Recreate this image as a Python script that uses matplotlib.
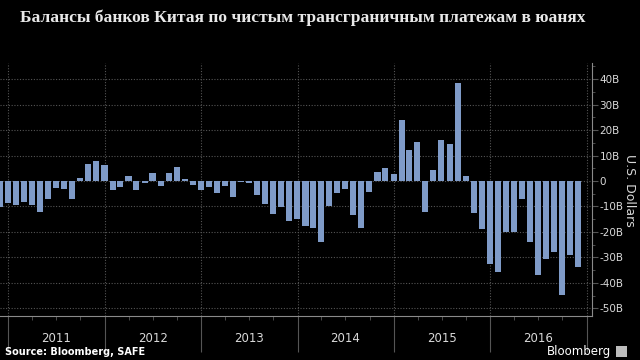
import matplotlib
matplotlib.use("Agg")
import matplotlib.pyplot as plt
import matplotlib.dates as mdates
import matplotlib.patches as patches
from matplotlib.ticker import MultipleLocator, FuncFormatter
import pandas as pd

# monthly net cross-border yuan payments, billions of USD (month-end)
months = pd.date_range("2010-11-30", periods=73, freq="ME")
values = [
    -10.1, -8.8, -9.5, -8.1, -9.4, -12.0, -7.1, -2.6, -3.1, -7.2, 1.0, 6.7,
    7.8, 6.4, -3.5, -2.4, 2.1, -3.5, -0.9, 3.0, -2.0, 3.3, 5.4, 0.9,
    -1.4, -3.5, -2.5, -4.8, -1.9, -6.1, -0.2, -0.6, -5.5, -9.2, -13.0, -10.2,
    -15.8, -15.0, -17.5, -18.4, -24.1, -9.8, -4.8, -3.1, -13.2, -18.4, -4.4, 3.4,
    5.2, 2.9, 23.8, 12.0, 15.3, -12.0, 4.2, 15.9, 14.6, 38.3, 1.9, -12.7,
    -19.0, -32.5, -35.7, -20.1, -20.2, -7.1, -23.8, -36.7, -30.7, -27.8, -44.9, -29.1,
    -33.6,
]
years = [2011, 2012, 2013, 2014, 2015, 2016]

title = "Балансы банков Китая по чистым трансграничным платежам в юанях"
bar_color = "#7f9bc8"
grid_color = "#555555"
text_color = "#d9d9d9"

fig = plt.figure(figsize=(6.4, 3.6), dpi=100, facecolor="black")
ax = fig.add_axes([0.0, 0.122, 0.925, 0.703], facecolor="black")

x = mdates.date2num(months)
ax.bar(x, values, width=23, color=bar_color, zorder=3)

ax.set_xlim(mdates.date2num(pd.Timestamp("2010-11-30")),
            mdates.date2num(pd.Timestamp("2017-01-21")))
ax.set_ylim(-53, 46.3)

# y axis on the right
ax.yaxis.tick_right()
ax.yaxis.set_major_locator(MultipleLocator(10))
ax.yaxis.set_minor_locator(MultipleLocator(5))
ax.yaxis.set_major_formatter(FuncFormatter(lambda v, p: "0" if v == 0 else f"{v:.0f}B"))
ax.tick_params(axis="y", which="major", colors=grid_color, labelcolor=text_color,
               labelsize=7.5, length=4, pad=1.5)
ax.tick_params(axis="y", which="minor", colors=grid_color, length=2)
fig.text(0.983, 0.47, "U.S. Dollars", rotation=270, color=text_color, fontsize=9,
         ha="center", va="center")

# x axis: year boundaries long ticks, quarters short ticks
year_starts = [mdates.date2num(pd.Timestamp(f"{y}-01-01")) for y in years + [2017]]
quarters = mdates.date2num(pd.date_range("2011-01-01", "2017-01-01", freq="QS"))
ax.set_xticks(year_starts)
ax.set_xticks(quarters, minor=True)
ax.tick_params(axis="x", which="major", colors=grid_color, length=26, labelbottom=False)
ax.tick_params(axis="x", which="minor", colors=grid_color, length=3)
for y in years:
    mid = mdates.date2num(pd.Timestamp(f"{y}-07-01"))
    ax.text(mid, -0.087, str(y), transform=ax.get_xaxis_transform(),
            ha="center", va="center", color=text_color, fontsize=8.5)

ax.grid(True, which="major", color=grid_color, linestyle=(0, (1, 1.5)), linewidth=0.8, zorder=0)

for s in ["left", "top"]:
    ax.spines[s].set_visible(False)
for s in ["right", "bottom"]:
    ax.spines[s].set_color("#8a8a8a")
    ax.spines[s].set_linewidth(0.8)

fig.text(0.031, 0.95, title, family="Liberation Serif", fontweight="bold",
         fontsize=12.6, color="#e8e8e8", ha="left", va="center")
fig.text(0.008, 0.022, "Source: Bloomberg, SAFE", fontweight="bold", fontsize=7,
         color="white", ha="left", va="center")
fig.text(0.955, 0.025, "Bloomberg", fontsize=8.5, color="white", ha="right", va="center")
fig.patches.append(patches.Rectangle((0.963, 0.008), 0.016, 0.03, transform=fig.transFigure,
                                     facecolor="#bdbdbd", edgecolor="none"))

fig.savefig("out.png", dpi=100, facecolor="black")
